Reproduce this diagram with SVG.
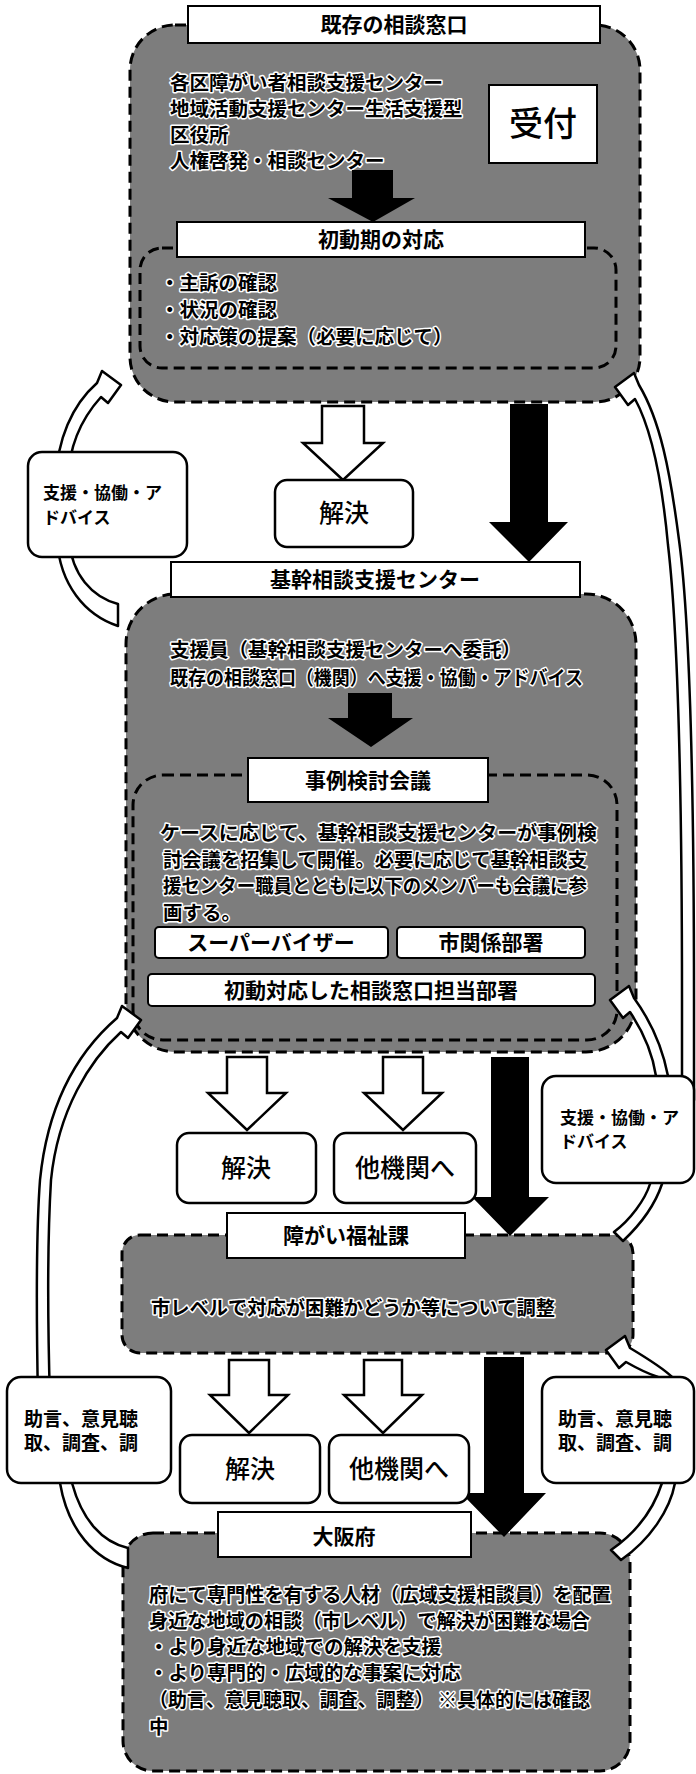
<svg xmlns="http://www.w3.org/2000/svg" width="696" height="1774" viewBox="0 0 696 1774">
<style>
.region{fill:#7d7d7d;stroke:#000;stroke-width:3;stroke-dasharray:11 6}
.frame{fill:none;stroke:#000;stroke-width:3;stroke-dasharray:11 6}
.tbox{fill:#fff;stroke:#000;stroke-width:2}
.rbox{fill:#fff;stroke:#000;stroke-width:2.5}
.harrow{fill:#fff;stroke:#000;stroke-width:2.5;stroke-linejoin:miter}
.barrow{fill:#000}
.carrow{fill:#fff;stroke:#000;stroke-width:2.5;stroke-linejoin:round}
text{font-family:"Noto Sans CJK JP","Noto Sans CJK SC",sans-serif;fill:#000}
.rt{font-size:19.5px;font-weight:700;stroke:#fff;stroke-width:3;paint-order:stroke;stroke-linejoin:round}
.tt{font-size:21px;font-weight:700;text-anchor:middle}
.bt{font-size:25px;font-weight:500;text-anchor:middle}
.st{font-size:17px;font-weight:700}
.st2{font-size:19px;font-weight:700}
</style>

<g id="region1">
  <rect class="region" x="130" y="25" width="510" height="377" rx="45"/>
  <rect class="frame" x="140" y="248" width="476" height="120" rx="22"/>
  <text class="rt" x="170" y="90">各区障がい者相談支援センター</text>
  <text class="rt" x="170" y="116">地域活動支援センター生活支援型</text>
  <text class="rt" x="170" y="142">区役所</text>
  <text class="rt" x="170" y="168">人権啓発・相談センター</text>
  <text class="rt" x="160" y="290">・主訴の確認</text>
  <text class="rt" x="160" y="317">・状況の確認</text>
  <text class="rt" x="160" y="344">・対応策の提案（必要に応じて）</text>
</g>
<g id="region2">
  <rect class="region" x="126" y="594" width="510" height="458" rx="50"/>
  <rect class="frame" x="133" y="775" width="484" height="265" rx="30"/>
  <text class="rt" x="170" y="657">支援員（基幹相談支援センターへ委託）</text>
  <text class="rt" x="170" y="685" textLength="413" lengthAdjust="spacingAndGlyphs">既存の相談窓口（機関）へ支援・協働・アドバイス</text>
  <text class="rt" x="160" y="840" textLength="437" lengthAdjust="spacingAndGlyphs">ケースに応じて、基幹相談支援センターが事例検</text>
  <text class="rt" x="163" y="866.5" textLength="424" lengthAdjust="spacingAndGlyphs">討会議を招集して開催。必要に応じて基幹相談支</text>
  <text class="rt" x="163" y="893" textLength="424" lengthAdjust="spacingAndGlyphs">援センター職員とともに以下のメンバーも会議に参</text>
  <text class="rt" x="163" y="919.5">画する。</text>
</g>
<g id="region3">
  <rect class="region" x="122" y="1235" width="511" height="118" rx="18"/>
  <text class="rt" x="151" y="1315" textLength="404" lengthAdjust="spacingAndGlyphs">市レベルで対応が困難かどうか等について調整</text>
</g>
<g id="region4">
  <rect class="region" x="123" y="1533" width="507" height="238" rx="30"/>
  <text class="rt" x="149" y="1602" font-size="20" textLength="462" lengthAdjust="spacingAndGlyphs">府にて専門性を有する人材（広域支援相談員）を配置</text>
  <text class="rt" x="149" y="1628" textLength="441" lengthAdjust="spacingAndGlyphs">身近な地域の相談（市レベル）で解決が困難な場合</text>
  <text class="rt" x="149" y="1654">・より身近な地域での解決を支援</text>
  <text class="rt" x="149" y="1680">・より専門的・広域的な事案に対応</text>
  <text class="rt" x="149" y="1707" textLength="441" lengthAdjust="spacingAndGlyphs">（助言、意見聴取、調査、調整） ※具体的には確認</text>
  <text class="rt" x="149" y="1734">中</text>
</g>

<g id="connectors">
  <path class="carrow" d="M118,626 C85,615 60,585 57,540 L56,480 C57,440 72,405 97,383 L102,371 L121,385 L108,403 L101,397 C82,418 69,445 68,480 L69,540 C72,575 92,597 118,604 Z"/>
  <path class="carrow" d="M128,1568 C95,1560 68,1530 60,1483 L38,1400 C36,1300 37,1220 40,1180 C48,1100 80,1050 117,1018 L122,1006 L141,1020 L128,1038 L121,1032 C90,1060 58,1110 51,1180 C48,1230 47,1300 50,1400 L72,1483 C82,1520 102,1542 128,1548 Z"/>
  <path class="carrow" d="M623,1241 C640,1225 655,1205 662,1184 L694,1100 L694,1000 C694,800 690,620 679,540 C670,470 660,420 639,385 L634,373 L615,387 L628,405 L635,399 C652,430 662,480 668,545 C678,630 682,800 682,1000 L682,1100 L650,1184 C645,1200 630,1220 614,1232 Z"/>
  <path class="carrow" d="M668,1130 L668,1076 C662,1045 650,1020 634,998 L629,986 L610,1000 L623,1018 L630,1012 C642,1030 652,1050 656,1076 L656,1130 Z"/>
  <path class="carrow" d="M621,1560 C650,1540 670,1510 675,1483 L672,1377 C665,1370 650,1360 630,1348 L625,1336 L606,1350 L619,1368 L626,1362 C640,1370 652,1375 658,1377 L662,1483 C655,1505 640,1530 611,1550 Z"/>
  <polygon class="barrow" points="352,170 393,170 393,198 415,198 373,222 328,198 352,198"/>
  <polygon class="barrow" points="348,693 392,693 392,718 413,718 371,747 328,718 348,718"/>
  <polygon class="barrow" points="510,404 548,404 548,522 568,522 529,562 489,522 510,522"/>
  <polygon class="barrow" points="491,1057 529,1057 529,1197 549,1197 510,1236 472,1197 491,1197"/>
  <polygon class="barrow" points="484,1357 524,1357 524,1493 546,1493 504,1537 461,1493 484,1493"/>
  <polygon class="harrow" points="322,406 364,406 364,443 383,443 343,480 303,443 322,443"/>
  <polygon class="harrow" points="227,1057 267,1057 267,1093 286,1093 247,1130 208,1093 227,1093"/>
  <polygon class="harrow" points="383,1057 423,1057 423,1093 442,1093 403,1130 364,1093 383,1093"/>
  <polygon class="harrow" points="229,1360 269,1360 269,1395 288,1395 249,1433 210,1395 229,1395"/>
  <polygon class="harrow" points="364,1360 402,1360 402,1395 422,1395 383,1433 344,1395 364,1395"/>
</g>

<g id="title1"><rect class="tbox" x="188" y="6" width="412" height="37"/><text class="tt" x="394" y="32">既存の相談窓口</text></g>
<g id="uketsuke"><rect class="tbox" x="489" y="85" width="108" height="78"/><text x="543" y="136" font-size="34" font-weight="500" text-anchor="middle">受付</text></g>
<g id="shodoki"><rect class="tbox" x="177" y="222" width="408" height="35"/><text class="tt" x="381" y="247">初動期の対応</text></g>
<g id="title2"><rect class="tbox" x="171" y="562" width="409" height="35"/><text class="tt" x="375" y="587">基幹相談支援センター</text></g>
<g id="jirei"><rect class="tbox" x="248" y="758" width="240" height="44"/><text class="tt" x="368" y="788">事例検討会議</text></g>
<g id="supervisor"><rect class="tbox" x="155" y="927" width="233" height="31" rx="4"/><text class="tt" x="271" y="950">スーパーバイザー</text></g>
<g id="shikankei"><rect class="tbox" x="397" y="927" width="188" height="31" rx="4"/><text class="tt" x="491" y="950">市関係部署</text></g>
<g id="shodotaio"><rect class="tbox" x="148" y="974" width="447" height="32" rx="4"/><text class="tt" x="371" y="998">初動対応した相談窓口担当部署</text></g>
<g id="title3"><rect class="tbox" x="227" y="1213" width="238" height="45"/><text class="tt" x="346" y="1243">障がい福祉課</text></g>
<g id="title4"><rect class="tbox" x="218" y="1512" width="253" height="45"/><text class="tt" x="344" y="1544">大阪府</text></g>

<g id="kaiketsu1"><rect class="rbox" x="275" y="480" width="138" height="67" rx="12"/><text class="bt" x="344" y="522">解決</text></g>
<g id="kaiketsu2"><rect class="rbox" x="177" y="1133" width="139" height="70" rx="12"/><text class="bt" x="246" y="1177">解決</text></g>
<g id="takikan2"><rect class="rbox" x="334" y="1133" width="142" height="70" rx="12"/><text class="bt" x="405" y="1177">他機関へ</text></g>
<g id="kaiketsu3"><rect class="rbox" x="180" y="1435" width="140" height="68" rx="12"/><text class="bt" x="250" y="1478">解決</text></g>
<g id="takikan3"><rect class="rbox" x="329" y="1435" width="140" height="68" rx="12"/><text class="bt" x="399" y="1478">他機関へ</text></g>

<g id="shien-left"><rect class="rbox" x="28" y="452" width="159" height="105" rx="14"/><text class="st" x="43" y="499">支援・協働・ア</text><text class="st" x="43" y="524">ドバイス</text></g>
<g id="shien-right"><rect class="rbox" x="542" y="1076" width="152" height="107" rx="14"/><text class="st" x="560" y="1124">支援・協働・ア</text><text class="st" x="560" y="1148">ドバイス</text></g>
<g id="jogen-left"><rect class="rbox" x="7" y="1377" width="164" height="106" rx="14"/><text class="st2" x="24" y="1426">助言、意見聴</text><text class="st2" x="24" y="1450">取、調査、調</text></g>
<g id="jogen-right"><rect class="rbox" x="542" y="1377" width="152" height="106" rx="14"/><text class="st2" x="558" y="1426">助言、意見聴</text><text class="st2" x="558" y="1450">取、調査、調</text></g>
</svg>
